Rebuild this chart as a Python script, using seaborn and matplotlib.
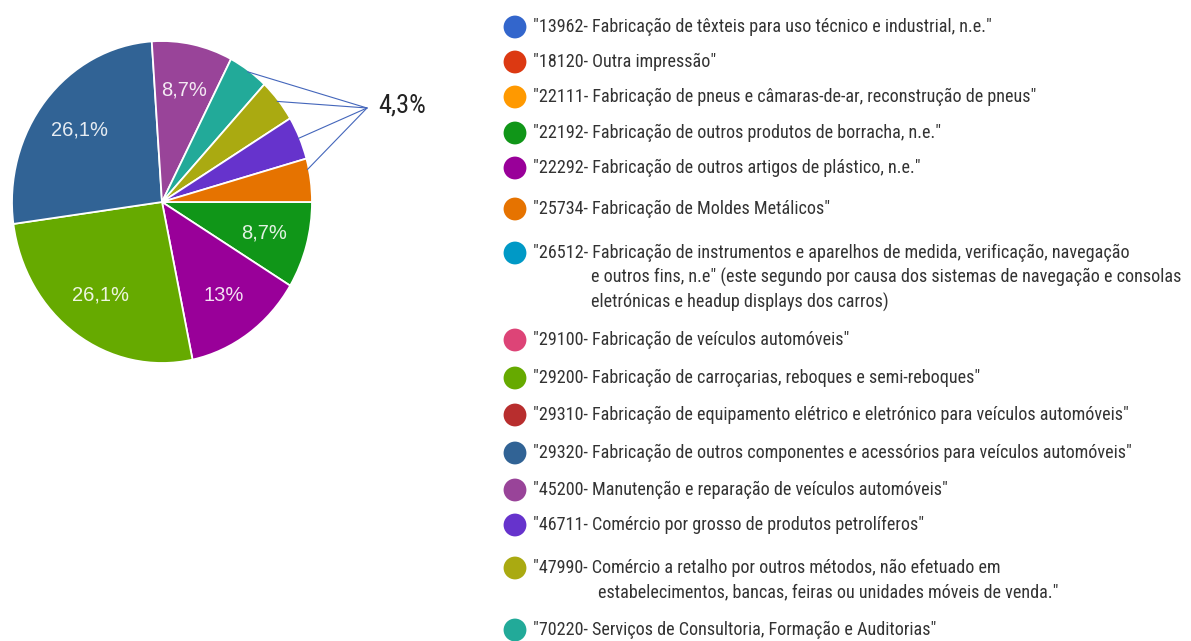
import numpy as np
import matplotlib
matplotlib.use("Agg")
import matplotlib.pyplot as plt
import matplotlib.colors as mcolors
import seaborn as sns

# pie slices, clockwise from 3 o'clock (counts out of 23 answers)
slice_codes = ["22192", "22292", "29200", "29320", "45200", "70220", "47990", "46711", "25734"]
slice_counts = [2, 3, 6, 6, 2, 1, 1, 1, 1]

# legend entries
legend_codes = ["13962", "18120", "22111", "22192", "22292", "25734", "26512", "29100",
                "29200", "29310", "29320", "45200", "46711", "47990", "70220"]
legend_text = [
    ["\"13962- Fabricação de têxteis para uso técnico e industrial, n.e.\""],
    ["\"18120- Outra impressão\""],
    ["\"22111- Fabricação de pneus e câmaras-de-ar, reconstrução de pneus\""],
    ["\"22192- Fabricação de outros produtos de borracha, n.e.\""],
    ["\"22292- Fabricação de outros artigos de plástico, n.e.\""],
    ["\"25734- Fabricação de Moldes Metálicos\""],
    ["\"26512- Fabricação de instrumentos e aparelhos de medida, verificação, navegação",
     "e outros fins, n.e\" (este segundo por causa dos sistemas de navegação e consolas",
     "eletrónicas e headup displays dos carros)"],
    ["\"29100- Fabricação de veículos automóveis\""],
    ["\"29200- Fabricação de carroçarias, reboques e semi-reboques\""],
    ["\"29310- Fabricação de equipamento elétrico e eletrónico para veículos automóveis\""],
    ["\"29320- Fabricação de outros componentes e acessórios para veículos automóveis\""],
    ["\"45200- Manutenção e reparação de veículos automóveis\""],
    ["\"46711- Comércio por grosso de produtos petrolíferos\""],
    ["\"47990- Comércio a retalho por outros métodos, não efetuado em",
     "estabelecimentos, bancas, feiras ou unidades móveis de venda.\""],
    ["\"70220- Serviços de Consultoria, Formação e Auditorias\""],
]
colors = {
    "13962": "#3366cc", "18120": "#dc3912", "22111": "#ff9900", "22192": "#109618",
    "22292": "#990099", "25734": "#e67300", "26512": "#0099c6", "29100": "#dd4477",
    "29200": "#66aa00", "29310": "#b82e2e", "29320": "#316395", "45200": "#994499",
    "46711": "#6633cc", "47990": "#aaaa11", "70220": "#22aa99",
}
small_label = "4,3%"
small_codes = ["70220", "47990", "46711", "25734"]

# layout (pixels)
W, H = 1191, 641
row_y = [27, 62, 97, 133, 168, 209, 253, 340, 378, 415, 453, 490, 525, 568, 630]
line_gap = 24.5
dot_x, text_x = 515, 533
indent_x = {"26512": 591, "47990": 598}

sns.set_theme(style="white")
plt.rcParams["font.family"] = ["Roboto Condensed", "DejaVu Sans"]

fig = plt.figure(figsize=(W / 100, H / 100), dpi=100)
fig.patch.set_facecolor("white")

# pie: centre (162, 202), rx 150, ry 161
cx, cy, rx, ry = 162, 202, 150, 161
ax = fig.add_axes([(cx - rx) / W, 1 - (cy + ry) / H, 2 * rx / W, 2 * ry / H])


def fmt(p):
    if p < 5:
        return ""
    s = f"{p:.1f}".replace(".", ",")
    return s[:-2] + "%" if s.endswith(",0") else s + "%"


wedges, _, autotexts = ax.pie(
    slice_counts, colors=[colors[c] for c in slice_codes], startangle=0,
    counterclock=False, autopct=fmt, pctdistance=0.71,
    wedgeprops=dict(edgecolor="white", linewidth=1.3),
    textprops=dict(fontsize=14.5, family=["Liberation Sans", "DejaVu Sans"]))
for t, c in zip(autotexts, slice_codes):
    rgb = np.array(mcolors.to_rgb(colors[c]))
    t.set_color(rgb * 0.12 + 0.88)
ax.set_aspect("auto")
ax.set_xlim(-1, 1)
ax.set_ylim(-1, 1)
ax.axis("off")

# overlay in pixel coordinates
ov = fig.add_axes([0, 0, 1, 1])
ov.set_xlim(0, W)
ov.set_ylim(H, 0)
ov.axis("off")

# callout lines for the 4,3% slices
hub = (367, 108)
cum = np.cumsum([0] + slice_counts) / sum(slice_counts) * 360
for code in small_codes:
    i = slice_codes.index(code)
    mid = -np.deg2rad(cum[i] + (cum[i + 1] - cum[i]) * (0.5 if code != "25734" else 0.25))
    px = cx + rx * 0.99 * np.cos(mid)
    py = cy - ry * 0.99 * np.sin(mid)
    ov.plot([hub[0], px], [hub[1], py], color="#4466bb", lw=0.8)
ov.text(378, 106, small_label, fontsize=19, color="#222222", va="center", ha="left")

# legend
sns.scatterplot(x=[dot_x] * len(legend_codes), y=row_y, hue=legend_codes,
                palette=colors, s=270, linewidth=0, legend=False, ax=ov)
ov.set_xlim(0, W)
ov.set_ylim(H, 0)
for code, lines, y in zip(legend_codes, legend_text, row_y):
    for k, line in enumerate(lines):
        x = text_x if k == 0 else indent_x[code]
        ov.text(x, y + k * line_gap, line, fontsize=13.1, color="#333333",
                va="center", ha="left")

fig.savefig("out.png", dpi=100, facecolor="white")
